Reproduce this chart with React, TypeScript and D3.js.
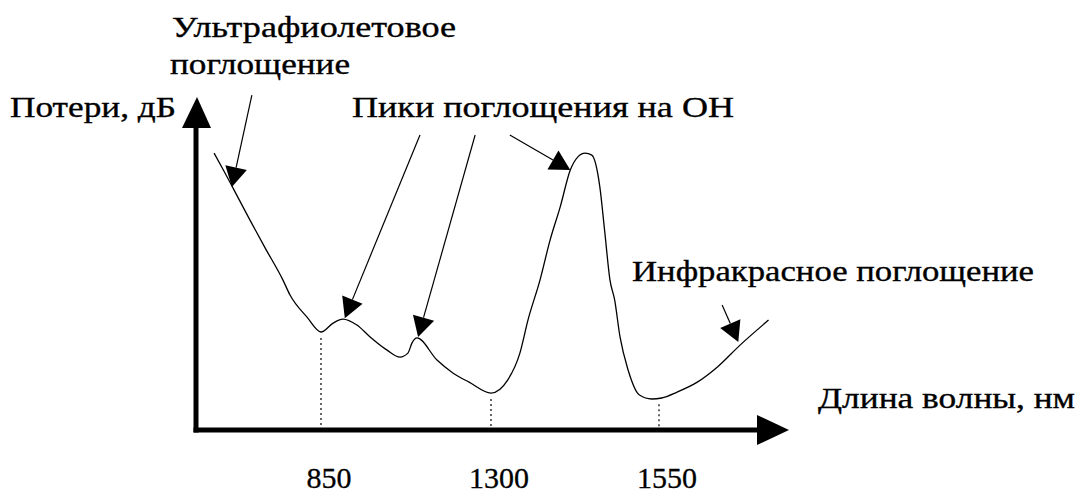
import React, { useEffect, useRef } from "react"
import * as d3 from "d3"

// кривая потерь: длина волны (нм) и потери (усл. ед.)
const wavelength = [567, 593, 620, 662, 702, 749, 768, 813, 850, 882, 908, 945, 980, 1025, 1059, 1080, 1091, 1104, 1157, 1199, 1242, 1300, 1325, 1343, 1355, 1373, 1388, 1403, 1418, 1429, 1440, 1450, 1462, 1469, 1477, 1484, 1492, 1504, 1521, 1539, 1554, 1577, 1607, 1637, 1671, 1713]
const loss = [8.39, 7.85, 7.27, 6.36, 5.52, 4.55, 4.09, 3.42, 2.97, 3.24, 3.36, 3.18, 2.82, 2.42, 2.21, 2.33, 2.64, 2.79, 2.12, 1.73, 1.45, 1.12, 1.52, 2.33, 3.33, 4.55, 5.76, 6.76, 7.88, 8.27, 8.39, 8.33, 7.36, 6.06, 4.55, 3.94, 2.82, 1.82, 1.06, 0.94, 0.97, 1.15, 1.45, 1.91, 2.58, 3.33]

const tickValues = [850, 1300, 1550]
const tickLabels = ["850", "1300", "1550"]

// стрелки-подписи: откуда -> куда (нм, потери)
const arrowFrom = [[667, 10.15], [1112, 8.94], [1258, 8.94], [1328, 8.94], [1644, 3.79]]
const arrowTo = [[614, 7.36], [913, 3.39], [1107, 2.82], [1418, 7.88], [1668, 2.67]]

const W = 1082
const H = 497

export default function App() {
    const ref = useRef<SVGSVGElement>(null)

    useEffect(() => {
        const svg = d3.select(ref.current)
        svg.selectAll("*").remove()

        const x = d3.scaleLinear().domain(tickValues).range([321, 491, 659]) // шкала неравномерная
        const y = d3.scaleLinear().domain([0, 10]).range([430, 100])
        const x0 = 196, y0 = 430
        const font = "'Liberation Serif', 'Times New Roman', serif"

        const data = wavelength.map((w, i) => ({ w, v: loss[i] }))

        // оси
        svg.append("line").attr("x1", x0).attr("y1", y0 + 2.5).attr("x2", x0).attr("y2", 120)
            .attr("stroke", "#000").attr("stroke-width", 5)
        svg.append("path").attr("d", `M${x0 - 14},128 L${x0 + 15},128 L${x0 + 1},97 Z`).attr("fill", "#000")
        svg.append("line").attr("x1", x0 - 2.5).attr("y1", y0).attr("x2", 765).attr("y2", y0)
            .attr("stroke", "#000").attr("stroke-width", 5)
        svg.append("path").attr("d", `M757,${y0 - 15} L757,${y0 + 15} L789,${y0} Z`).attr("fill", "#000")

        // пунктир к делениям
        const interp = (w: number) => {
            const i = d3.bisector((d: any) => d.w).left(data, w)
            if (i <= 0) return data[0].v
            const a = data[i - 1], b = data[i]
            return a.v + (b.v - a.v) * (w - a.w) / (b.w - a.w)
        }
        svg.selectAll("line.drop").data(tickValues).join("line")
            .attr("class", "drop")
            .attr("x1", d => x(d)).attr("x2", d => x(d))
            .attr("y1", d => y(interp(d)) + 6).attr("y2", y0 - 3)
            .attr("stroke", "#000").attr("stroke-width", 1.2).attr("stroke-dasharray", "2,3")

        // кривая
        const line = d3.line<any>().x(d => x(d.w)).y(d => y(d.v)).curve(d3.curveMonotoneX)
        svg.append("path").datum(data).attr("d", line).attr("fill", "none")
            .attr("stroke", "#000").attr("stroke-width", 1.3)

        // стрелки
        arrowFrom.forEach((f, i) => {
            const t = arrowTo[i]
            const x1 = x(f[0]), y1 = y(f[1]), x2 = x(t[0]), y2 = y(t[1])
            const ang = Math.atan2(y2 - y1, x2 - x1)
            const len = 20, hw = 11
            const bx = x2 - len * Math.cos(ang), by = y2 - len * Math.sin(ang)
            svg.append("line").attr("x1", x1).attr("y1", y1).attr("x2", bx).attr("y2", by)
                .attr("stroke", "#000").attr("stroke-width", 1.2)
            svg.append("path")
                .attr("d", `M${x2},${y2} L${bx - hw * Math.sin(ang)},${by + hw * Math.cos(ang)} L${bx + hw * Math.sin(ang)},${by - hw * Math.cos(ang)} Z`)
                .attr("fill", "#000")
        })

        // подписи
        const labels = [
            { t: "Ультрафиолетовое", x: 172, y: 37, w: 284 },
            { t: "поглощение", x: 170, y: 74, w: 180 },
            { t: "Потери, дБ", x: 10, y: 117, w: 166 },
            { t: "Пики поглощения на ОН", x: 352, y: 117, w: 382 },
            { t: "Инфракрасное поглощение", x: 632, y: 281, w: 402 },
            { t: "Длина волны, нм", x: 818, y: 408, w: 257 },
        ]
        svg.selectAll("text.lbl").data(labels).join("text")
            .attr("class", "lbl")
            .attr("x", d => d.x).attr("y", d => d.y)
            .attr("textLength", d => d.w).attr("lengthAdjust", "spacingAndGlyphs")
            .attr("font-family", font).attr("font-size", 30).attr("fill", "#000")
            .attr("stroke", "#000").attr("stroke-width", 0.35)
            .text(d => d.t)

        svg.selectAll("text.tick").data(tickValues).join("text")
            .attr("class", "tick")
            .attr("x", d => x(d) + 8).attr("y", 488)
            .attr("text-anchor", "middle")
            .attr("font-family", font).attr("font-size", 30).attr("fill", "#000")
            .attr("stroke", "#000").attr("stroke-width", 0.3)
            .text((d, i) => tickLabels[i])
    }, [])

    return (
        <svg ref={ref} width={W} height={H}
             style={{ position: "absolute", left: 0, top: 0, background: "#fff" }} />
    )
}
